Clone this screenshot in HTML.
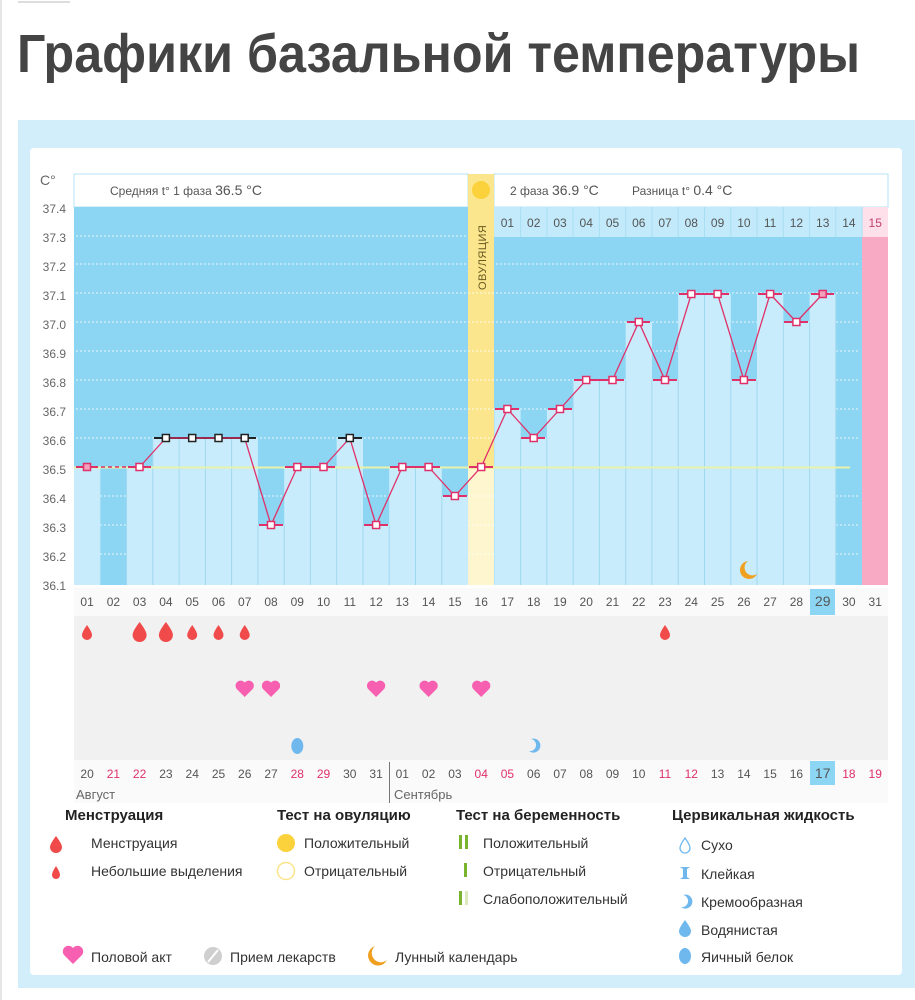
<!DOCTYPE html>
<html><head><meta charset="utf-8">
<style>
html,body{margin:0;padding:0;background:#fff;}
svg{display:block;}
text{font-family:"Liberation Sans Narrow","Liberation Sans","DejaVu Sans Condensed",sans-serif;}
.t{font-size:12px;fill:#555;}
.ax{font-size:12px;fill:#666;}
.lg{font-size:14px;fill:#333;}
.lh{font-size:15px;fill:#222;font-weight:bold;}
.r{fill:#e0306a;}
</style></head><body>
<svg width="915" height="1000" viewBox="0 0 915 1000" xmlns="http://www.w3.org/2000/svg">
<rect x="0" y="0" width="915" height="1000" fill="#fff"/>
<line x1="18" y1="2" x2="70" y2="2" stroke="#bbb" stroke-width="1"/>
<line x1="1" y1="0" x2="1" y2="1000" stroke="#e6e6e6" stroke-width="2"/>
<text x="17" y="72" textLength="843" lengthAdjust="spacingAndGlyphs" style="font-family:'Liberation Sans Narrow','Liberation Sans',sans-serif;font-weight:bold;font-size:54px;fill:#444;">Графики базальной температуры</text>
<rect x="18" y="120" width="897" height="868" fill="#d2eefa"/>
<rect x="30" y="148" width="872" height="827" rx="4" fill="#fff"/>
<rect x="74" y="174" width="394" height="33" fill="#fff" stroke="#b6e2f4"/>
<rect x="494" y="174" width="394" height="33" fill="#fff" stroke="#b6e2f4"/>
<text x="110" y="195" class="t">Средняя t° 1 фаза <tspan style="font-size:14px">36.5 °C</tspan></text>
<text x="510" y="195" class="t">2 фаза <tspan style="font-size:14px">36.9 °C</tspan></text>
<text x="632" y="195" class="t">Разница t° <tspan style="font-size:14px">0.4 °C</tspan></text>
<text x="40" y="185" class="ax" style="font-size:14px">C°</text>
<rect x="74" y="207" width="394" height="378" fill="#8dd6f3"/>
<rect x="494" y="207" width="368" height="378" fill="#8dd6f3"/>
<rect x="468" y="174" width="26" height="295" fill="#fbe68e"/>
<rect x="468" y="469" width="26" height="116" fill="#fdf6cf"/>
<circle cx="481" cy="190" r="9" fill="#fbd23c"/>
<text transform="translate(486,290) rotate(-90)" style="font-size:11px;fill:#6a5a20;letter-spacing:0.5px">ОВУЛЯЦИЯ</text>
<rect x="862" y="207" width="26" height="378" fill="#f8aac4"/>
<rect x="494" y="207" width="368" height="30" fill="#c3eafa"/>
<rect x="862" y="207" width="26" height="30" fill="#fde0ea"/>
<g stroke="#a8def3" stroke-width="1">
<line x1="520.6" y1="207" x2="520.6" y2="237"/><line x1="546.9" y1="207" x2="546.9" y2="237"/><line x1="573.1" y1="207" x2="573.1" y2="237"/><line x1="599.4" y1="207" x2="599.4" y2="237"/><line x1="625.7" y1="207" x2="625.7" y2="237"/><line x1="651.9" y1="207" x2="651.9" y2="237"/><line x1="678.2" y1="207" x2="678.2" y2="237"/><line x1="704.5" y1="207" x2="704.5" y2="237"/><line x1="730.8" y1="207" x2="730.8" y2="237"/><line x1="757" y1="207" x2="757" y2="237"/><line x1="783.3" y1="207" x2="783.3" y2="237"/><line x1="809.6" y1="207" x2="809.6" y2="237"/><line x1="835.8" y1="207" x2="835.8" y2="237"/><line x1="862.1" y1="207" x2="862.1" y2="237"/>
</g>
<g class="t" text-anchor="middle" style="font-size:12px">
<text x="507.4" y="227">01</text><text x="533.7" y="227">02</text><text x="560" y="227">03</text><text x="586.2" y="227">04</text><text x="612.5" y="227">05</text><text x="638.8" y="227">06</text><text x="665" y="227">07</text><text x="691.3" y="227">08</text><text x="717.6" y="227">09</text><text x="743.9" y="227">10</text><text x="770.1" y="227">11</text><text x="796.4" y="227">12</text><text x="822.7" y="227">13</text><text x="848.9" y="227">14</text><text x="875.2" y="227" style="fill:#c04070">15</text>
</g>
<g stroke="#fff" stroke-width="1" stroke-dasharray="2,2" opacity="0.8">
<line x1="76" y1="236" x2="466" y2="236"/><line x1="496" y1="264" x2="860" y2="264"/><line x1="76" y1="264" x2="466" y2="264"/>
<line x1="76" y1="293" x2="860" y2="293"/><line x1="76" y1="322" x2="860" y2="322"/><line x1="76" y1="351" x2="860" y2="351"/>
<line x1="76" y1="380" x2="860" y2="380"/><line x1="76" y1="409" x2="860" y2="409"/><line x1="76" y1="438" x2="860" y2="438"/>
<line x1="76" y1="496" x2="860" y2="496"/><line x1="76" y1="525" x2="860" y2="525"/><line x1="76" y1="554" x2="860" y2="554"/>
</g>
<g fill="#c8ecfb">
<rect x="74" y="467" width="26.3" height="118"/>
<rect x="126.5" y="467" width="26.3" height="118"/>
<rect x="152.8" y="438" width="26.3" height="147"/>
<rect x="179.1" y="438" width="26.3" height="147"/>
<rect x="205.4" y="438" width="26.3" height="147"/>
<rect x="231.6" y="438" width="26.3" height="147"/>
<rect x="257.9" y="525" width="26.3" height="60"/>
<rect x="284.2" y="467" width="26.3" height="118"/>
<rect x="310.4" y="467" width="26.3" height="118"/>
<rect x="336.7" y="438" width="26.3" height="147"/>
<rect x="363" y="525" width="26.3" height="60"/>
<rect x="389.2" y="467" width="26.3" height="118"/>
<rect x="415.5" y="467" width="26.3" height="118"/>
<rect x="441.8" y="496" width="26.3" height="89"/>
<rect x="494.3" y="409" width="26.3" height="176"/>
<rect x="520.6" y="438" width="26.3" height="147"/>
<rect x="546.9" y="409" width="26.3" height="176"/>
<rect x="573.1" y="380" width="26.3" height="205"/>
<rect x="599.4" y="380" width="26.3" height="205"/>
<rect x="625.7" y="322" width="26.3" height="263"/>
<rect x="651.9" y="380" width="26.3" height="205"/>
<rect x="678.2" y="294" width="26.3" height="291"/>
<rect x="704.5" y="294" width="26.3" height="291"/>
<rect x="730.8" y="380" width="26.3" height="205"/>
<rect x="757" y="294" width="26.3" height="291"/>
<rect x="783.3" y="322" width="26.3" height="263"/>
<rect x="809.6" y="294" width="26.3" height="291"/>
</g>
<g stroke="#9fd8ef" stroke-width="1">
<line x1="126.5" y1="467" x2="126.5" y2="585"/><line x1="152.8" y1="438" x2="152.8" y2="585"/><line x1="179.1" y1="438" x2="179.1" y2="585"/><line x1="205.4" y1="438" x2="205.4" y2="585"/><line x1="231.6" y1="438" x2="231.6" y2="585"/><line x1="257.9" y1="525" x2="257.9" y2="585"/><line x1="284.2" y1="525" x2="284.2" y2="585"/><line x1="310.4" y1="467" x2="310.4" y2="585"/><line x1="336.7" y1="467" x2="336.7" y2="585"/><line x1="363" y1="525" x2="363" y2="585"/><line x1="389.2" y1="525" x2="389.2" y2="585"/><line x1="415.5" y1="467" x2="415.5" y2="585"/><line x1="441.8" y1="496" x2="441.8" y2="585"/>
<line x1="520.6" y1="438" x2="520.6" y2="585"/><line x1="546.9" y1="438" x2="546.9" y2="585"/><line x1="573.1" y1="380" x2="573.1" y2="585"/><line x1="599.4" y1="380" x2="599.4" y2="585"/><line x1="625.7" y1="380" x2="625.7" y2="585"/><line x1="651.9" y1="380" x2="651.9" y2="585"/><line x1="678.2" y1="380" x2="678.2" y2="585"/><line x1="704.5" y1="294" x2="704.5" y2="585"/><line x1="730.8" y1="380" x2="730.8" y2="585"/><line x1="757" y1="380" x2="757" y2="585"/><line x1="783.3" y1="322" x2="783.3" y2="585"/><line x1="809.6" y1="322" x2="809.6" y2="585"/><line x1="835.8" y1="294" x2="835.8" y2="585"/>
</g>
<line x1="74" y1="467.5" x2="850" y2="467.5" stroke="#e8f2a8" stroke-width="2"/>
<g class="ax" text-anchor="end">
<text x="66" y="213">37.4</text><text x="66" y="242">37.3</text><text x="66" y="271">37.2</text><text x="66" y="300">37.1</text><text x="66" y="329">37.0</text><text x="66" y="358">36.9</text><text x="66" y="387">36.8</text><text x="66" y="416">36.7</text><text x="66" y="445">36.6</text><text x="66" y="474">36.5</text><text x="66" y="503">36.4</text><text x="66" y="532">36.3</text><text x="66" y="561">36.2</text><text x="66" y="590">36.1</text>
</g>
<g stroke-width="2">
<line x1="76" y1="467" x2="98" y2="467" stroke="#e0306a"/>
<line x1="128" y1="467" x2="151" y2="467" stroke="#e0306a"/>
<line x1="154" y1="438" x2="256" y2="438" stroke="#222"/>
<line x1="338" y1="438" x2="362" y2="438" stroke="#222"/>
<line x1="259" y1="525" x2="283" y2="525" stroke="#e0306a"/>
<line x1="285" y1="467" x2="335" y2="467" stroke="#e0306a"/>
<line x1="364" y1="525" x2="388" y2="525" stroke="#e0306a"/>
<line x1="390" y1="467" x2="440" y2="467" stroke="#e0306a"/>
<line x1="443" y1="496" x2="467" y2="496" stroke="#e0306a"/>
<line x1="469" y1="467" x2="493" y2="467" stroke="#e0306a"/>
<line x1="495" y1="409" x2="519" y2="409" stroke="#e0306a"/>
<line x1="521" y1="438" x2="545" y2="438" stroke="#e0306a"/>
<line x1="548" y1="409" x2="572" y2="409" stroke="#e0306a"/>
<line x1="574" y1="380" x2="624" y2="380" stroke="#e0306a"/>
<line x1="627" y1="322" x2="650" y2="322" stroke="#e0306a"/>
<line x1="653" y1="380" x2="677" y2="380" stroke="#e0306a"/>
<line x1="679" y1="294" x2="729" y2="294" stroke="#e0306a"/>
<line x1="732" y1="380" x2="756" y2="380" stroke="#e0306a"/>
<line x1="758" y1="294" x2="782" y2="294" stroke="#e0306a"/>
<line x1="784" y1="322" x2="808" y2="322" stroke="#e0306a"/>
<line x1="811" y1="294" x2="834" y2="294" stroke="#e0306a"/>
</g>
<line x1="87" y1="467" x2="139.6" y2="467" stroke="#e0306a" stroke-width="1.5" stroke-dasharray="4,3"/>
<polyline fill="none" stroke="#e0306a" stroke-width="1.3" points="139.6,467 165.9,438 192.2,438 218.5,438 244.7,438 271,525 297.3,467 323.5,467 349.8,438 376.1,525 402.3,467 428.6,467 454.9,496 481.2,467 507.4,409 533.7,438 560,409 586.2,380 612.5,380 638.8,322 665,380 691.3,294 717.6,294 743.9,380 770.1,294 796.4,322 822.7,294"/>
<g fill="#fff" stroke="#e0306a" stroke-width="1.5">
<rect x="83.5" y="463.5" width="7" height="7" fill="#f3a0bd"/>
<rect x="136" y="463.5" width="7" height="7"/>
<rect x="267.5" y="521.5" width="7" height="7"/><rect x="293.8" y="463.5" width="7" height="7"/><rect x="320" y="463.5" width="7" height="7"/>
<rect x="372.6" y="521.5" width="7" height="7"/><rect x="398.8" y="463.5" width="7" height="7"/><rect x="425.1" y="463.5" width="7" height="7"/><rect x="451.4" y="492.5" width="7" height="7"/><rect x="477.7" y="463.5" width="7" height="7"/>
<rect x="503.9" y="405.5" width="7" height="7"/><rect x="530.2" y="434.5" width="7" height="7"/><rect x="556.5" y="405.5" width="7" height="7"/><rect x="582.7" y="376.5" width="7" height="7"/><rect x="609" y="376.5" width="7" height="7"/><rect x="635.3" y="318.5" width="7" height="7"/><rect x="661.5" y="376.5" width="7" height="7"/><rect x="687.8" y="290.5" width="7" height="7"/><rect x="714.1" y="290.5" width="7" height="7"/><rect x="740.4" y="376.5" width="7" height="7"/><rect x="766.6" y="290.5" width="7" height="7"/><rect x="792.9" y="318.5" width="7" height="7"/><rect x="819.2" y="290.5" width="7" height="7" fill="#f3a0bd"/>
</g>
<g fill="#fff" stroke="#222" stroke-width="1.5">
<rect x="162.4" y="434.5" width="7" height="7"/><rect x="188.7" y="434.5" width="7" height="7"/><rect x="215" y="434.5" width="7" height="7"/><rect x="241.2" y="434.5" width="7" height="7"/><rect x="346.3" y="434.5" width="7" height="7"/>
</g>
<path d="M748,561 a9,9 0 1 0 9,13 a7,7 0 1 1 -9,-13z" fill="#f0a020"/>
<rect x="74" y="588" width="814" height="215" fill="#fafafa"/>
<rect x="74" y="616" width="814" height="144" fill="#f1f1f1"/>
<rect x="810" y="589" width="25" height="26" fill="#8dd6f3"/>
<rect x="810" y="761" width="25" height="24" fill="#8dd6f3"/>
<g class="ax" text-anchor="middle" style="font-size:12px;fill:#555">
<text x="87.1" y="606">01</text><text x="113.4" y="606">02</text><text x="139.6" y="606">03</text><text x="165.9" y="606">04</text><text x="192.2" y="606">05</text><text x="218.5" y="606">06</text><text x="244.7" y="606">07</text><text x="271" y="606">08</text><text x="297.3" y="606">09</text><text x="323.5" y="606">10</text><text x="349.8" y="606">11</text><text x="376.1" y="606">12</text><text x="402.3" y="606">13</text><text x="428.6" y="606">14</text><text x="454.9" y="606">15</text><text x="481.2" y="606">16</text><text x="507.4" y="606">17</text><text x="533.7" y="606">18</text><text x="560" y="606">19</text><text x="586.2" y="606">20</text><text x="612.5" y="606">21</text><text x="638.8" y="606">22</text><text x="665" y="606">23</text><text x="691.3" y="606">24</text><text x="717.6" y="606">25</text><text x="743.9" y="606">26</text><text x="770.1" y="606">27</text><text x="796.4" y="606">28</text><text x="822.7" y="606" style="font-size:14px">29</text><text x="848.9" y="606">30</text><text x="875.2" y="606">31</text>
</g>
<g class="ax" text-anchor="middle" style="font-size:12px;fill:#555">
<text x="87.1" y="778">20</text><text x="113.4" y="778" class="r">21</text><text x="139.6" y="778" class="r">22</text><text x="165.9" y="778">23</text><text x="192.2" y="778">24</text><text x="218.5" y="778">25</text><text x="244.7" y="778">26</text><text x="271" y="778">27</text><text x="297.3" y="778" class="r">28</text><text x="323.5" y="778" class="r">29</text><text x="349.8" y="778">30</text><text x="376.1" y="778">31</text><text x="402.3" y="778">01</text><text x="428.6" y="778">02</text><text x="454.9" y="778">03</text><text x="481.2" y="778" class="r">04</text><text x="507.4" y="778" class="r">05</text><text x="533.7" y="778">06</text><text x="560" y="778">07</text><text x="586.2" y="778">08</text><text x="612.5" y="778">09</text><text x="638.8" y="778">10</text><text x="665" y="778" class="r">11</text><text x="691.3" y="778" class="r">12</text><text x="717.6" y="778">13</text><text x="743.9" y="778">14</text><text x="770.1" y="778">15</text><text x="796.4" y="778">16</text><text x="822.7" y="778" style="font-size:14px">17</text><text x="848.9" y="778" class="r">18</text><text x="875.2" y="778" class="r">19</text>
</g>
<line x1="389.5" y1="762" x2="389.5" y2="803" stroke="#777" stroke-width="1"/>
<text x="76" y="799" class="ax" style="font-size:13px">Август</text>
<text x="394" y="799" class="ax" style="font-size:13px">Сентябрь</text>
<g fill="#f04a4a">
<path d="M87,625 q5,7 5,10 a5,5 0 0 1 -10,0 q0,-3 5,-10z"/>
<path d="M139.6,622 q7,9 7,13 a7,7 0 0 1 -14,0 q0,-4 7,-13z"/>
<path d="M165.9,622 q7,9 7,13 a7,7 0 0 1 -14,0 q0,-4 7,-13z"/>
<path d="M192.2,625 q5,7 5,10 a5,5 0 0 1 -10,0 q0,-3 5,-10z"/>
<path d="M218.5,625 q5,7 5,10 a5,5 0 0 1 -10,0 q0,-3 5,-10z"/>
<path d="M244.7,625 q5,7 5,10 a5,5 0 0 1 -10,0 q0,-3 5,-10z"/>
<path d="M665,625 q5,7 5,10 a5,5 0 0 1 -10,0 q0,-3 5,-10z"/>
</g>
<g fill="#f760b0">
<path d="M244.7,697 l-8,-8 a4.5,4.5 0 0 1 8,-6.5 a4.5,4.5 0 0 1 8,6.5z"/>
<path d="M271,697 l-8,-8 a4.5,4.5 0 0 1 8,-6.5 a4.5,4.5 0 0 1 8,6.5z"/>
<path d="M376.1,697 l-8,-8 a4.5,4.5 0 0 1 8,-6.5 a4.5,4.5 0 0 1 8,6.5z"/>
<path d="M428.6,697 l-8,-8 a4.5,4.5 0 0 1 8,-6.5 a4.5,4.5 0 0 1 8,6.5z"/>
<path d="M481.2,697 l-8,-8 a4.5,4.5 0 0 1 8,-6.5 a4.5,4.5 0 0 1 8,6.5z"/>
</g>
<ellipse cx="297.3" cy="746" rx="6" ry="8" fill="#6fb8ee"/>
<path d="M531,739 a7,7 0 1 1 -2,12 a4,4 0 0 0 2,-12z" fill="#6fb8ee"/>
<text x="65" y="820" class="lh">Менструация</text>
<text x="277" y="820" class="lh">Тест на овуляцию</text>
<text x="456" y="820" class="lh">Тест на беременность</text>
<text x="672" y="820" class="lh">Цервикальная жидкость</text>
<path d="M56,836 q6,8 6,11 a6,6 0 0 1 -12,0 q0,-3 6,-11z" fill="#f04a4a"/>
<text x="91" y="848" class="lg">Менструация</text>
<path d="M56,866 q4,6 4,9 a4,4 0 0 1 -8,0 q0,-3 4,-9z" fill="#f04a4a"/>
<text x="91" y="876" class="lg">Небольшие выделения</text>
<circle cx="286" cy="843" r="9" fill="#fbd23c"/>
<text x="304" y="848" class="lg">Положительный</text>
<circle cx="286" cy="871" r="8.5" fill="#fff" stroke="#fbe38a" stroke-width="1.5"/>
<text x="304" y="876" class="lg">Отрицательный</text>
<rect x="459" y="835" width="3" height="14" fill="#7ab32e"/><rect x="465" y="835" width="3" height="14" fill="#7ab32e"/>
<text x="483" y="848" class="lg">Положительный</text>
<rect x="464" y="863" width="3" height="14" fill="#7ab32e"/>
<text x="483" y="876" class="lg">Отрицательный</text>
<rect x="459" y="891" width="3" height="14" fill="#7ab32e"/><rect x="465" y="891" width="3" height="14" fill="#dbe8c0"/>
<text x="483" y="904" class="lg">Слабоположительный</text>
<path d="M685,838 q5,7 5,10 a5,5 0 0 1 -10,0 q0,-3 5,-10z" fill="#fff" stroke="#6fb8ee" stroke-width="1.3"/>
<text x="701" y="850" class="lg">Сухо</text>
<path d="M680,867 h10 l-3,2 v8 l3,2 h-10 l3,-2 v-8z" fill="#6fb8ee"/>
<text x="701" y="879" class="lg">Клейкая</text>
<path d="M683,895 a7,7 0 1 1 -2,12 a4,4 0 0 0 2,-12z" fill="#6fb8ee"/>
<text x="701" y="907" class="lg">Кремообразная</text>
<path d="M685,920 q6,8 6,11 a6,6 0 0 1 -12,0 q0,-3 6,-11z" fill="#6fb8ee"/>
<text x="701" y="935" class="lg">Водянистая</text>
<ellipse cx="685" cy="956" rx="6" ry="8" fill="#6fb8ee"/>
<text x="701" y="962" class="lg">Яичный белок</text>
<path d="M73,964 l-9,-9 a5,5 0 0 1 9,-7 a5,5 0 0 1 9,7z" fill="#f760b0"/>
<text x="91" y="962" class="lg">Половой акт</text>
<circle cx="213" cy="956" r="9" fill="#cfcfcf"/><line x1="208" y1="962" x2="218" y2="950" stroke="#fff" stroke-width="2"/>
<text x="230" y="962" class="lg">Прием лекарств</text>
<path d="M375,946 a10,10 0 1 0 12,14 a8,8 0 1 1 -12,-14z" fill="#f0a020"/>
<text x="395" y="962" class="lg">Лунный календарь</text>
</svg>
</body></html>
